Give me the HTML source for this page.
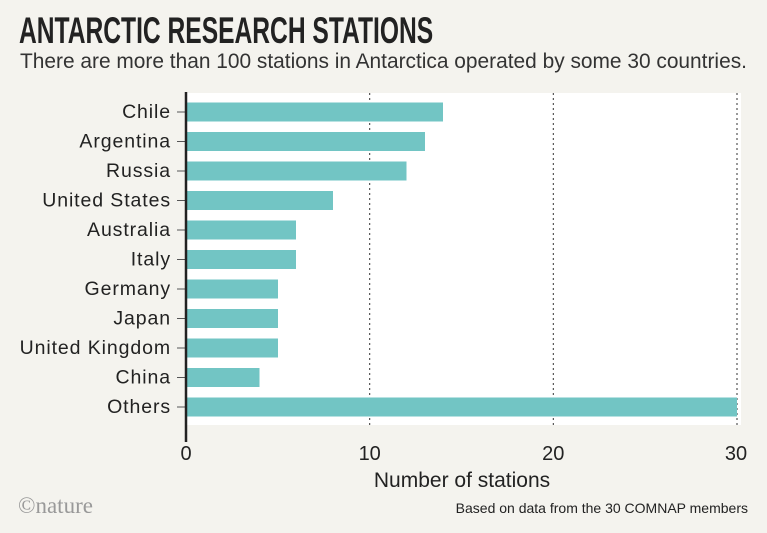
<!DOCTYPE html><html><head><style>
body{margin:0;width:767px;height:533px;background:#f4f3ee;font-family:"Liberation Sans",sans-serif;position:relative;overflow:hidden}
.t{position:absolute;white-space:nowrap}
</style></head><body>
<div class="t" style="left:19px;top:10px;font-weight:bold;font-size:37px;color:#222;transform:scaleX(0.665);transform-origin:left">ANTARCTIC RESEARCH STATIONS</div>
<div class="t" style="left:20px;top:50px;font-size:20.9px;color:#333">There are more than 100 stations in Antarctica operated by some 30 countries.</div>
<svg width="767" height="533" style="position:absolute;left:0;top:0">
<rect x="186" y="93" width="555" height="332" fill="#fff"/>
<g stroke="#333" stroke-width="1" stroke-dasharray="2,3">
<line x1="369.7" y1="93" x2="369.7" y2="425"/><line x1="553.3" y1="93" x2="553.3" y2="425"/><line x1="737" y1="93" x2="737" y2="425"/>
</g>
<g fill="#72c5c4">
<rect x="186" y="102.5" width="257" height="19"/>
<rect x="186" y="132" width="239" height="19"/>
<rect x="186" y="161.5" width="220.5" height="19"/>
<rect x="186" y="191" width="147" height="19"/>
<rect x="186" y="220.5" width="110" height="19"/>
<rect x="186" y="250" width="110" height="19"/>
<rect x="186" y="279.5" width="92" height="19"/>
<rect x="186" y="309" width="92" height="19"/>
<rect x="186" y="338.5" width="92" height="19"/>
<rect x="186" y="368" width="73.5" height="19"/>
<rect x="186" y="397.5" width="551" height="19"/>
</g>
<g stroke="#555" stroke-width="1">
<line x1="177" x2="186" y1="112" y2="112"/><line x1="177" x2="186" y1="141.5" y2="141.5"/><line x1="177" x2="186" y1="171" y2="171"/><line x1="177" x2="186" y1="200.5" y2="200.5"/><line x1="177" x2="186" y1="230" y2="230"/><line x1="177" x2="186" y1="259.5" y2="259.5"/><line x1="177" x2="186" y1="289" y2="289"/><line x1="177" x2="186" y1="318.5" y2="318.5"/><line x1="177" x2="186" y1="348" y2="348"/><line x1="177" x2="186" y1="377.5" y2="377.5"/><line x1="177" x2="186" y1="407" y2="407"/>
</g>
<line x1="186" y1="92" x2="186" y2="442" stroke="#222" stroke-width="2.5"/>
<g font-size="19.5" fill="#222" text-anchor="end" font-family="Liberation Sans,sans-serif" letter-spacing="0.9">
<text x="171" y="118">Chile</text><text x="171" y="147.5">Argentina</text><text x="171" y="177">Russia</text><text x="171" y="206.5">United States</text><text x="171" y="236">Australia</text><text x="171" y="265.5">Italy</text><text x="171" y="295">Germany</text><text x="171" y="324.5">Japan</text><text x="171" y="354">United Kingdom</text><text x="171" y="383.5">China</text><text x="171" y="413">Others</text>
</g>
<g font-size="20" fill="#222" text-anchor="middle" font-family="Liberation Sans,sans-serif">
<text x="186" y="460">0</text><text x="369.7" y="460">10</text><text x="553.3" y="460">20</text><text x="736" y="460">30</text>
<text x="462" y="487" font-size="21">Number of stations</text>
</g>
<text x="18" y="513" font-family="Liberation Serif,serif" font-size="23" fill="#999">©nature</text>
<text x="748" y="513" font-size="14" fill="#222" text-anchor="end" font-family="Liberation Sans,sans-serif">Based on data from the 30 COMNAP members</text>
</svg>
</body></html>
